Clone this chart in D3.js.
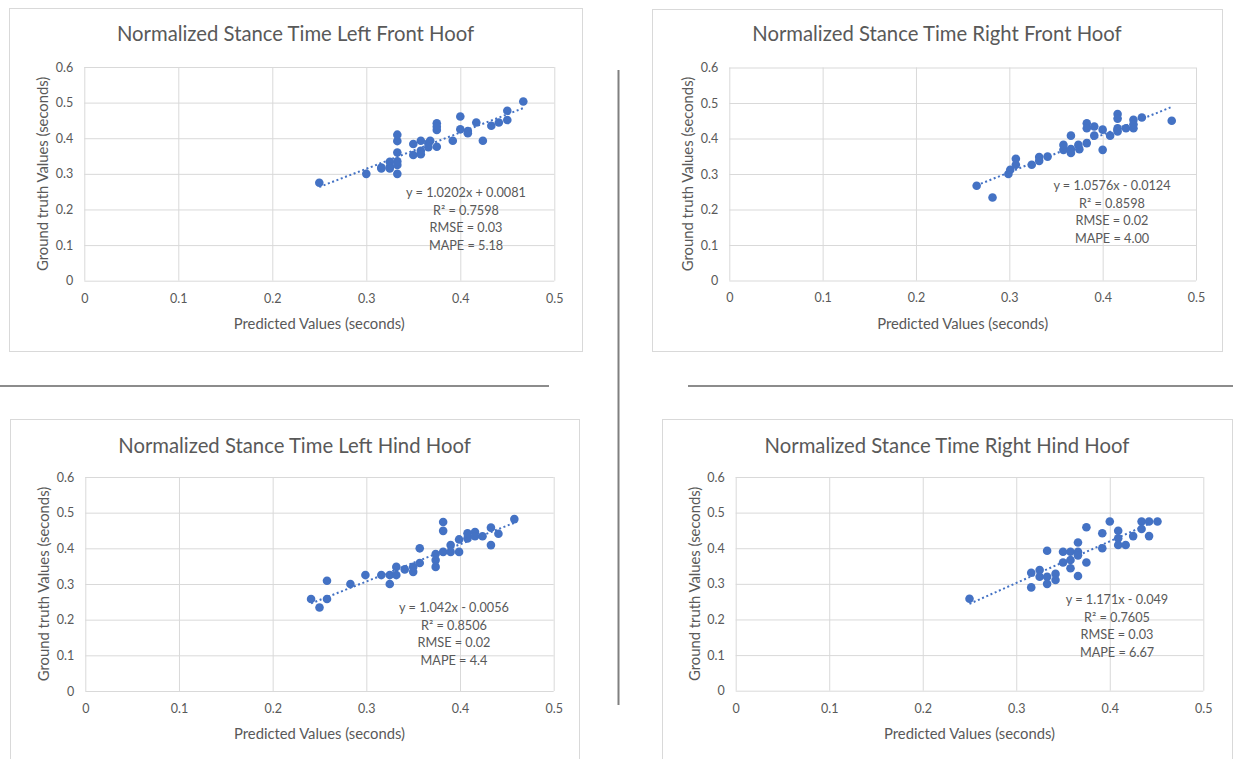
<!DOCTYPE html>
<html>
<head>
<meta charset="utf-8">
<script src="https://cdn.jsdelivr.net/npm/d3@7"></script>
<style>
  body { margin: 0; background: #fff; }
  svg { display: block; font-family: Lato, "Open Sans", sans-serif; }
</style>
</head>
<body>
<script>
// Tick labels shared by all four charts
const xTicks = [0, 0.1, 0.2, 0.3, 0.4, 0.5];
const yTicks = [0, 0.1, 0.2, 0.3, 0.4, 0.5, 0.6];

const titles = [
  "Normalized Stance Time Left Front Hoof",
  "Normalized Stance Time Right Front Hoof",
  "Normalized Stance Time Left Hind Hoof",
  "Normalized Stance Time Right Hind Hoof"
];

// Left front hoof
const lfPred  = [0.25, 0.30, 0.316, 0.316, 0.325, 0.325, 0.325, 0.333, 0.333, 0.333, 0.333, 0.333, 0.333, 0.35, 0.35, 0.358, 0.358, 0.358, 0.366, 0.368, 0.366, 0.375, 0.375, 0.375, 0.375, 0.392, 0.40, 0.40, 0.408, 0.408, 0.417, 0.424, 0.433, 0.441, 0.45, 0.45, 0.467];
const lfTruth = [0.275, 0.30, 0.318, 0.315, 0.334, 0.32, 0.315, 0.30, 0.325, 0.335, 0.36, 0.392, 0.41, 0.353, 0.384, 0.393, 0.365, 0.355, 0.386, 0.393, 0.375, 0.376, 0.423, 0.442, 0.432, 0.393, 0.425, 0.461, 0.414, 0.42, 0.444, 0.393, 0.435, 0.444, 0.451, 0.477, 0.503];

// Right front hoof
const rfPred  = [0.265, 0.282, 0.299, 0.301, 0.307, 0.307, 0.324, 0.332, 0.332, 0.341, 0.358, 0.358, 0.366, 0.366, 0.366, 0.374, 0.375, 0.383, 0.383, 0.383, 0.391, 0.391, 0.40, 0.40, 0.408, 0.416, 0.416, 0.416, 0.416, 0.425, 0.433, 0.433, 0.433, 0.442, 0.474];
const rfTruth = [0.267, 0.234, 0.30, 0.312, 0.326, 0.343, 0.326, 0.337, 0.348, 0.349, 0.368, 0.382, 0.408, 0.359, 0.37, 0.382, 0.37, 0.387, 0.443, 0.429, 0.434, 0.408, 0.425, 0.368, 0.408, 0.469, 0.456, 0.429, 0.42, 0.429, 0.453, 0.429, 0.44, 0.459, 0.45];

// Left hind hoof
const lhPred  = [0.241, 0.25, 0.258, 0.258, 0.283, 0.299, 0.316, 0.325, 0.325, 0.332, 0.332, 0.341, 0.35, 0.35, 0.357, 0.357, 0.374, 0.374, 0.374, 0.382, 0.382, 0.382, 0.39, 0.39, 0.399, 0.399, 0.408, 0.408, 0.416, 0.416, 0.424, 0.433, 0.433, 0.441, 0.458];
const lhTruth = [0.258, 0.234, 0.258, 0.309, 0.30, 0.325, 0.325, 0.30, 0.325, 0.325, 0.348, 0.341, 0.334, 0.348, 0.359, 0.40, 0.348, 0.367, 0.384, 0.39, 0.449, 0.474, 0.39, 0.409, 0.39, 0.425, 0.428, 0.442, 0.446, 0.434, 0.434, 0.458, 0.409, 0.441, 0.482];

// Right hind hoof
const rhPred  = [0.25, 0.316, 0.316, 0.325, 0.325, 0.333, 0.333, 0.333, 0.342, 0.342, 0.35, 0.35, 0.358, 0.358, 0.358, 0.366, 0.366, 0.366, 0.366, 0.375, 0.375, 0.392, 0.392, 0.40, 0.409, 0.409, 0.409, 0.417, 0.425, 0.434, 0.434, 0.442, 0.442, 0.451];
const rhTruth = [0.258, 0.29, 0.331, 0.339, 0.32, 0.30, 0.32, 0.393, 0.311, 0.328, 0.36, 0.39, 0.367, 0.344, 0.39, 0.416, 0.39, 0.38, 0.322, 0.36, 0.459, 0.40, 0.442, 0.475, 0.449, 0.428, 0.409, 0.409, 0.434, 0.475, 0.454, 0.475, 0.434, 0.475];

// Trendline coefficients and stats text
const slopes     = [1.0202, 1.0576, 1.042, 1.171];
const intercepts = [0.0081, -0.0124, -0.0056, -0.049];
const statLines = [
  ["y = 1.0202x + 0.0081", "R\u00B2 = 0.7598", "RMSE = 0.03", "MAPE = 5.18"],
  ["y = 1.0576x - 0.0124", "R\u00B2 = 0.8598", "RMSE = 0.02", "MAPE = 4.00"],
  ["y = 1.042x - 0.0056",  "R\u00B2 = 0.8506", "RMSE = 0.02", "MAPE = 4.4"],
  ["y = 1.171x - 0.049",   "R\u00B2 = 0.7605", "RMSE = 0.03", "MAPE = 6.67"]
];

const preds  = [lfPred, rfPred, lhPred, rhPred];
const truths = [lfTruth, rfTruth, lhTruth, rhTruth];

// Layout of each chart box (pixels)
const layouts = [
  { box: [9, 8, 582, 351],    plot: [84.3, 67, 554.3, 280.7], title: [295.5, 33], stats: [466, 192] },
  { box: [652, 9, 1222, 351], plot: [729.3, 67.5, 1196, 280.5], title: [937, 33], stats: [1112, 185] },
  { box: [10, 419, 579, 764], plot: [85.3, 477, 553.7, 691], title: [294.5, 445], stats: [454, 607] },
  { box: [662, 419, 1232, 764], plot: [735.7, 477, 1203.3, 690.7], title: [947, 445], stats: [1117, 599] }
];

const W = 1233, H = 759;
const blue = "#4472C4", textCol = "#595959", gridCol = "#d9d9d9";

const svg = d3.select("body").append("svg")
  .attr("width", W)
  .attr("height", H);

// Separator lines between charts
svg.append("line").attr("x1", 0).attr("x2", 549).attr("y1", 386).attr("y2", 386)
  .attr("stroke", "#8c8c8c").attr("stroke-width", 2);
svg.append("line").attr("x1", 688).attr("x2", 1233).attr("y1", 386).attr("y2", 386)
  .attr("stroke", "#8c8c8c").attr("stroke-width", 2);
svg.append("line").attr("x1", 618.5).attr("x2", 618.5).attr("y1", 70).attr("y2", 705)
  .attr("stroke", "#808080").attr("stroke-width", 2);

layouts.forEach((L, k) => {
  const [bx0, by0, bx1, by1] = L.box;
  const [px0, py0, px1, py1] = L.plot;

  svg.append("rect")
    .attr("x", bx0 + 0.5).attr("y", by0 + 0.5)
    .attr("width", bx1 - bx0).attr("height", by1 - by0)
    .attr("fill", "#fff").attr("stroke", gridCol);

  const x = d3.scaleLinear().domain([0, 0.5]).range([px0, px1]);
  const y = d3.scaleLinear().domain([0, 0.6]).range([py1, py0]);

  // Horizontal gridlines + y tick labels
  const gy = svg.append("g")
    .attr("transform", `translate(${px0},0)`)
    .call(d3.axisLeft(y).tickValues(yTicks).tickFormat(d => String(+d.toFixed(1)))
      .tickSize(-(px1 - px0)).tickPadding(11));
  gy.select(".domain").remove();
  gy.selectAll("line").attr("stroke", gridCol);
  gy.selectAll("text").attr("fill", textCol).style("font-size", "12.5px").style("font-family", "Lato, sans-serif");

  // Vertical gridlines + x tick labels
  const gx = svg.append("g")
    .attr("transform", `translate(0,${py1})`)
    .call(d3.axisBottom(x).tickValues(xTicks).tickFormat(d => String(+d.toFixed(1)))
      .tickSize(-(py1 - py0)).tickPadding(13));
  gx.select(".domain").remove();
  gx.selectAll("line").attr("stroke", gridCol);
  gx.selectAll("text").attr("fill", textCol).style("font-size", "12.5px").style("font-family", "Lato, sans-serif");

  // Titles
  svg.append("text")
    .attr("x", L.title[0]).attr("y", L.title[1])
    .attr("text-anchor", "middle").attr("dominant-baseline", "central")
    .attr("fill", textCol).style("font-size", "20.3px")
    .text(titles[k]);

  svg.append("text")
    .attr("x", (px0 + px1) / 2).attr("y", py1 + 42)
    .attr("text-anchor", "middle").attr("dominant-baseline", "central")
    .attr("fill", textCol).style("font-size", "14.8px")
    .text("Predicted Values (seconds)");

  svg.append("text")
    .attr("transform", `translate(${px0 - 42},${(py0 + py1) / 2}) rotate(-90)`)
    .attr("text-anchor", "middle").attr("dominant-baseline", "central")
    .attr("fill", textCol).style("font-size", "14.8px")
    .text("Ground truth Values (seconds)");

  // Trendline over data range
  const xs = preds[k], ys = truths[k];
  const ext = d3.extent(xs);
  const trend = ext.map(v => [v, slopes[k] * v + intercepts[k]]);
  svg.append("path")
    .datum(trend)
    .attr("fill", "none")
    .attr("stroke", blue)
    .attr("stroke-width", 2)
    .attr("stroke-dasharray", "2,2.6")
    .attr("d", d3.line().x(d => x(d[0])).y(d => y(d[1])));

  // Points
  svg.append("g").selectAll("circle")
    .data(xs.map((v, i) => [v, ys[i]]))
    .join("circle")
      .attr("cx", d => x(d[0]))
      .attr("cy", d => y(d[1]))
      .attr("r", 4.3)
      .attr("fill", blue);

  // Stats annotation
  svg.append("g").selectAll("text")
    .data(statLines[k])
    .join("text")
      .attr("x", L.stats[0])
      .attr("y", (d, i) => L.stats[1] + i * 17.5)
      .attr("text-anchor", "middle").attr("dominant-baseline", "central")
      .attr("fill", textCol).style("font-size", "12.7px")
      .text(d => d);
});
</script>
</body>
</html>
